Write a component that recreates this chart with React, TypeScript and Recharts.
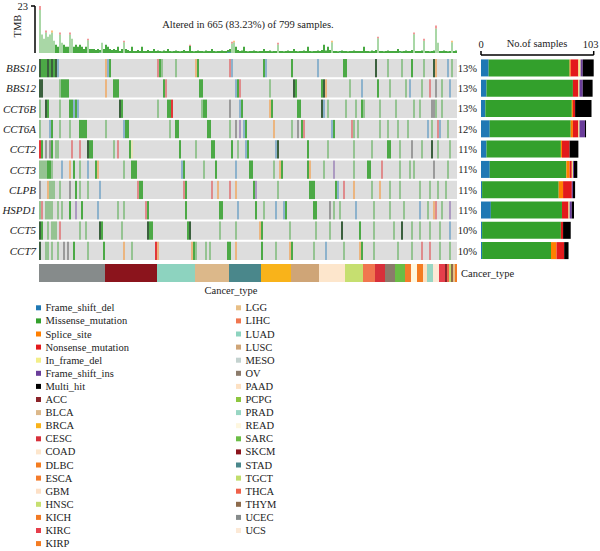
import React from "react";
import {
    BarChart,
    Bar,
    XAxis,
    YAxis,
    Cell,
    ScatterChart,
    Scatter,
    ReferenceArea,
} from "recharts";

const FONT = '"Liberation Serif", "Times New Roman", serif';
const TEXT = "#222";

const TOTAL_SAMPLES = 799;
const ALTERED_SAMPLES = 665;
const N_COLS = 209; // sample columns (each ~4 samples)

const genes = ["BBS10", "BBS12", "CCT6B", "CCT6A", "CCT2", "CCT3", "CLPB", "HSPD1", "CCT5", "CCT7"];

// variant classes: key, label, colour
const variantKeys = ["F", "M", "S", "N", "Y", "I", "K"];
const variantNames = [
    "Frame_shift_del",
    "Missense_mutation",
    "Splice_site",
    "Nonsense_mutation",
    "In_frame_del",
    "Frame_shift_ins",
    "Multi_hit",
];
const variantColors = ["#1f78b4", "#33a02c", "#ff7f00", "#e31a1c", "#f3ee88", "#6a3d9a", "#000000"];

// samples altered per gene, split by variant class
const frameShiftDel = [7, 5, 4, 8, 5, 8, 1, 9, 1, 1];
const missense = [74, 79, 79, 74, 68, 70, 70, 65, 72, 63];
const spliceSite = [1, 0, 1, 2, 1, 3, 4, 0, 0, 5];
const nonsense = [7, 5, 2, 5, 7, 2, 8, 6, 2, 7];
const inFrameDel = [2, 1, 0, 1, 0, 1, 0, 1, 0, 0];
const frameShiftIns = [2, 3, 0, 5, 0, 1, 1, 2, 0, 0];
const multiHit = [10, 9, 15, 1, 8, 3, 2, 2, 7, 4];

// per-column tumour mutation burden
const tmb = [
    23, 9, 7, 11, 8, 9, 11, 6, 4, 3,
    10, 5, 4, 3, 3, 10, 7, 3, 4, 3,
    4, 3, 2, 3, 7, 2, 2, 2, 1.5, 2,
    1.5, 5, 2, 4, 3, 2, 1.5, 2, 1.5, 3,
    1, 2, 6, 2, 1.5, 1, 3, 1, 1, 1.5,
    1, 3, 1, 1, 1.5, 1, 1, 2, 1, 1.2,
    1, 0.8, 1.2, 1, 2, 1, 0.8, 1, 1.2, 1,
    0.8, 1, 1.5, 1, 1, 4, 1, 0.8, 1, 1.2,
    1, 1, 0.8, 1.2, 1, 1, 2, 1, 0.8, 1,
    1, 1.2, 1, 1, 1.5, 2, 5.5, 6, 3, 1.5,
    1, 1.2, 3, 1, 0.8, 1, 1, 1.2, 1, 0.8,
    1, 1, 2, 1, 1, 1.2, 0.8, 1, 1, 5,
    1, 1, 0.8, 1, 1.2, 1, 1, 2, 1, 0.8,
    1, 1, 1.2, 1, 3, 1, 0.8, 1, 1, 1.2,
    1, 1.5, 4, 1.2, 3, 1.5, 6, 1, 1, 0.8,
    1, 1.2, 1, 1, 0.8, 1, 1, 1.2, 1, 1,
    1, 1, 3, 1, 1, 0.8, 1.2, 1, 1.5, 8,
    1, 1, 0.8, 1, 1.2, 1, 1, 1, 1, 2,
    1, 0.8, 1, 1.2, 1, 1, 1.5, 10, 1, 1,
    1, 1.2, 7, 1, 1, 0.8, 1, 1.2, 13.5, 5,
    1, 1, 1.2, 1, 0.8, 1, 6, 1, 1.2,
];

// non-missense parts of the burden: [column, amount, class]
const tmbParts: [number, number, string][] = [
    [0, 2, "N"], [3, 1, "N"], [6, 1, "S"], [10, 1, "N"], [15, 1, "N"],
    [24, 0.8, "N"], [30, 0.3, "F"], [42, 0.8, "N"], [75, 0.6, "N"],
    [94, 0.4, "F"], [95, 0.4, "F"], [96, 0.8, "N"], [97, 0.8, "S"],
    [119, 0.8, "N"], [146, 0.8, "S"], [150, 0.3, "F"], [169, 0.8, "N"],
    [180, 0.3, "F"], [187, 0.8, "N"], [192, 1, "N"], [198, 1.5, "N"], [206, 0.8, "S"],
];

// mutated columns per gene: "col" or "from-to" + class (lower case = fewer samples)
const geneCells = [
    "0K 1M 2-3M 4K 5M 6K 7M 8K 9f 33s 34f 35M 59n 60M 61m 68m 78s 79M 95n 96f 112M 113f 126M 139f 152-153M 168K 174m 181m 186M 192m 197K 198s 204f 206m",
    "0-1K 10m 11-14M 33s 37-39M 62M 63n 80-81M 98f 99M 100n 115m 127K 128M 141M 142K 143s 155m 161f 169M 175m 183m 185f 191m 195n 198k 201m 205f",
    "0m 3K 4M 10m 15-16M 17f 18M 19f 40K 41M 59m 64-65M 66N 81m 82-83M 95k 100f 101M 115s 116M 129-130M 141K 142f 144m 153m 158m 161M 162m 170m 178m 187m 190m 196-197k 198m 201m",
    "0m 5f 6M 10m 15m 20-23M 33m 42f 43-44M 65m 68-69M 84-85M 95m 98k 100i 102f 103M 117s 126m 129k 131M 132n 146f 147M 156n 157m 159m 170m 174m 179m 184m 194f 196m 199n 200f 204m",
    "0N 1M 3k 5k 6M 8m 9m 16n 20n 24K 25-26M 37m 39n 45M 46y 70M 78m 86-87M 96M 99m 103f 104M 118f 119K 134M 144m 157m 166m 174-175M 180m 186k 191m 196K 199m 205m",
    "0-3m 4-5M 6m 11f 15s 17M 20m 24f 28M 29s 42m 46-48M 71f 72M 82m 88M 98f 105-106M 117m 120s 121M 134M 135s 142m 147i 157m 164-165M 171n 180m 185m 187m 197k 204m",
    "0k 4s 5-7m 10m 15k 18M 20m 24m 30f 49n 50-51M 72n 73M 86n 89s 95n 98s 107M 108i 119m 135-137M 148M 149f 152n 157s 166m 170s 175m 180m 190m 195m 199m 203m",
    "0m 1n 3-6m 9m 11m 15M 18i 21M 29f 39m 42m 53n 54M 73M 90-91M 99f 108M 112m 118f 122f 123M 137-138M 145k 147m 150m 158f 167m 175m 182m 190f 194m 197s 198n 201m 205i",
    "0K 1M 4m 6-8m 10n 20m 23m 30K 31M 41m 54K 55-56M 74M 75K 90m 98m 110s 111M 125m 138m 145m 151K 160M 167m 177m 181K 186m 190m 195m 200m 205f",
    "0K 3-4m 6m 9m 12k 14k 17M 24m 32M 42s 46m 58N 59s 76s 77M 78m 83m 85m 94-95M 98s 111M 118m 125s 126M 137m 143f 152m 160s 161M 167m 179m 186m 191n 195n 200m 205m",
];

const cancerNames = [
    "ACC", "BLCA", "BRCA", "CESC", "COAD", "DLBC", "ESCA", "GBM", "HNSC", "KICH", "KIRC", "KIRP",
    "LGG", "LIHC", "LUAD", "LUSC", "MESO", "OV", "PAAD", "PCPG", "PRAD", "READ", "SARC", "SKCM",
    "STAD", "TGCT", "THCA", "THYM", "UCEC", "UCS",
];
const cancerColors = [
    "#8b2329", "#dcb88a", "#f9b31a", "#d7303a", "#fde6cc", "#f47c20", "#f47b2b", "#fde0c6", "#c6df70", "#f27a24", "#e63e4b", "#f47c22",
    "#e8bf86", "#f0764f", "#8dd3bf", "#cfa577", "#c3d2cf", "#8c7b6b", "#fde1c3", "#8dc63f", "#98d6c3", "#fef7df", "#6bbd45", "#8b141c",
    "#4a878b", "#c1dd6b", "#ef614a", "#8d6b4c", "#868b8b", "#fce9d6",
];

// annotation strip: cancer type order and number of columns
const stripOrder = [
    "UCEC", "SKCM", "LUAD", "BLCA", "STAD", "BRCA", "LUSC", "COAD", "HNSC", "LIHC", "CESC", "OV", "SARC",
    "ESCA", "READ", "KIRP", "PAAD", "PRAD", "UCS", "KIRC", "ACC", "THCA", "TGCT", "THYM", "LGG", "KICH",
];
const stripCols = [33, 26, 19, 17, 16, 15, 14, 13, 9, 6, 5, 5, 5, 3, 3, 3, 2, 3, 3, 3, 1, 1, 1, 1, 1, 1];

const colorOf = (k: string) => variantColors[variantKeys.indexOf(k.toUpperCase())];

const tmbRows = tmb.map((v, i) => {
    const row: Record<string, number> = { col: i, F: 0, M: v, S: 0, N: 0 };
    tmbParts
        .filter((p) => p[0] === i)
        .forEach(([, amt, k]) => {
            row[k] += amt;
            row.M -= amt;
        });
    return row;
});

const cellPoints = geneCells.flatMap((line, gi) =>
    line.split(" ").flatMap((tok) => {
        const m = tok.match(/^(\d+)(?:-(\d+))?([A-Za-z])$/);
        if (!m) return [];
        const a = Number(m[1]);
        const b = m[2] ? Number(m[2]) : a;
        const out = [];
        for (let c = a; c <= b; c++) out.push({ x: c + 0.5, y: gi + 0.5, code: m[3] });
        return out;
    })
);

const countRows = genes.map((g, i) => ({
    gene: g,
    F: frameShiftDel[i],
    M: missense[i],
    S: spliceSite[i],
    N: nonsense[i],
    Y: inFrameDel[i],
    I: frameShiftIns[i],
    K: multiHit[i],
}));
const pctLabel = (g: string) => {
    const r = countRows.find((d) => d.gene === g);
    if (!r) return "";
    const total = r.F + r.M + r.S + r.N + r.Y + r.I + r.K;
    return `${Math.round((total / TOTAL_SAMPLES) * 100)}%`;
};

const stripRow: Record<string, number | string> = { name: "Cancer_type" };
stripOrder.forEach((c, i) => (stripRow[c] = stripCols[i]));

const legendItems = [
    ...variantNames.map((n, i) => ({ name: n, color: variantColors[i] })),
    ...cancerNames.map((n, i) => ({ name: n, color: cancerColors[i] })),
];

// grid geometry
const GRID_LEFT = 39;
const GRID_W = 418;
const GRID_TOP = 58;
const GRID_H = 203;
const COL_W = GRID_W / N_COLS;
const ROW_H = GRID_H / genes.length;

// multi-hit columns mix with missense calls, so they read as very dark green in the grid
const MULTI_CELL = "#1f4a22";

const CellShape = (props: any) => {
    const { cx, cy, payload } = props;
    const code: string = payload.code;
    const upper = code === code.toUpperCase();
    const isMulti = code.toUpperCase() === "K";
    const op = upper ? 0.85 : isMulti ? 0.3 : 0.42;
    return (
        <rect
            x={cx - COL_W / 2}
            y={cy - ROW_H * 0.45}
            width={COL_W}
            height={ROW_H * 0.9}
            fill={isMulti && upper ? MULTI_CELL : colorOf(code)}
            fillOpacity={op}
        />
    );
};

const axisTick = { fontSize: 10.5, fill: TEXT, fontFamily: FONT };

// top axis tick, last label pulled in so it stays on the page
const CountTick = (props: any) => {
    const { x, y, payload } = props;
    const shift = payload.value === 103 ? -3 : 0;
    return (
        <text x={x + shift} y={y} textAnchor="middle" fontSize={10.5} fill={TEXT} fontFamily={FONT}>
            {payload.value}
        </text>
    );
};

const App: React.FC = () => {
    const altPct = ((ALTERED_SAMPLES / TOTAL_SAMPLES) * 100).toFixed(2);
    return (
        <div
            style={{
                position: "absolute",
                left: 0,
                top: 0,
                width: 600,
                height: 551,
                background: "#fff",
                fontFamily: FONT,
            }}
        >
            {/* TMB bars */}
            <div style={{ position: "absolute", left: 0, top: 0 }}>
                <BarChart
                    width={600}
                    height={56}
                    data={tmbRows}
                    margin={{ top: 6, right: 143, bottom: 3, left: 0 }}
                    barCategoryGap={0}
                >
                    <XAxis dataKey="col" hide padding={{ left: 4, right: 0 }} />
                    <YAxis
                        domain={[0, 23]}
                        ticks={[0, 23]}
                        width={35}
                        tickSize={4}
                        tickMargin={3}
                        tick={axisTick}
                        axisLine={{ stroke: "#000", strokeWidth: 1.5 }}
                        tickLine={{ stroke: "#000", strokeWidth: 1.5 }}
                    />
                    <Bar dataKey="F" stackId="t" fill={variantColors[0]} isAnimationActive={false} />
                    <Bar dataKey="M" stackId="t" fill={variantColors[1]} isAnimationActive={false}>
                        {tmbRows.map((r, i) => (
                            <Cell key={i} fillOpacity={tmb[i] > 4.5 ? 0.42 : 0.9} />
                        ))}
                    </Bar>
                    <Bar dataKey="S" stackId="t" fill={variantColors[2]} fillOpacity={0.5} isAnimationActive={false} />
                    <Bar dataKey="N" stackId="t" fill={variantColors[3]} fillOpacity={0.45} isAnimationActive={false} />
                </BarChart>
            </div>

            {/* oncoprint grid */}
            <div style={{ position: "absolute", left: 0, top: 0 }}>
                <ScatterChart
                    width={600}
                    height={GRID_TOP + GRID_H + 1}
                    margin={{ top: GRID_TOP, right: 600 - GRID_LEFT - GRID_W, bottom: 1, left: 0 }}
                >
                    <XAxis type="number" dataKey="x" domain={[0, N_COLS]} hide />
                    <YAxis
                        type="number"
                        dataKey="y"
                        domain={[0, genes.length]}
                        reversed
                        ticks={genes.map((_, i) => i + 0.5)}
                        tickFormatter={(v: number) => genes[Math.floor(v)]}
                        width={GRID_LEFT}
                        tickLine={false}
                        axisLine={false}
                        tickSize={0}
                        tickMargin={3}
                        interval={0}
                        tick={{ ...axisTick, fontSize: 11, fontStyle: "italic" }}
                    />
                    {genes.map((g, i) => (
                        <ReferenceArea
                            key={g}
                            x1={0}
                            x2={N_COLS}
                            y1={i + 0.05}
                            y2={i + 0.95}
                            fill="#dddddd"
                            fillOpacity={1}
                            stroke="none"
                        />
                    ))}
                    <Scatter data={cellPoints} shape={CellShape} isAnimationActive={false} />
                </ScatterChart>
            </div>

            {/* cancer type strip */}
            <div style={{ position: "absolute", left: 0, top: 264 }}>
                <BarChart
                    layout="vertical"
                    width={600}
                    height={18}
                    data={[stripRow]}
                    margin={{ top: 0, right: 600 - GRID_LEFT - GRID_W, bottom: 0, left: GRID_LEFT }}
                    barCategoryGap={0}
                >
                    <XAxis type="number" domain={[0, N_COLS]} hide />
                    <YAxis type="category" dataKey="name" hide />
                    {stripOrder.map((c) => (
                        <Bar
                            key={c}
                            dataKey={c}
                            stackId="ct"
                            fill={cancerColors[cancerNames.indexOf(c)]}
                            isAnimationActive={false}
                        />
                    ))}
                </BarChart>
            </div>

            {/* samples per gene */}
            <div style={{ position: "absolute", left: 0, top: 0 }}>
                <BarChart
                    layout="vertical"
                    width={600}
                    height={262}
                    data={countRows}
                    margin={{ top: 0, right: 6.3, bottom: 1, left: 457 }}
                    barCategoryGap="7%"
                >
                    <XAxis
                        type="number"
                        orientation="top"
                        domain={[0, 103]}
                        ticks={[0, 103]}
                        interval={0}
                        height={55}
                        tickSize={4}
                        tickMargin={3}
                        tick={<CountTick />}
                        axisLine={{ stroke: "#000", strokeWidth: 1.5 }}
                        tickLine={{ stroke: "#000", strokeWidth: 1.5 }}
                    />
                    <YAxis
                        type="category"
                        dataKey="gene"
                        width={24}
                        tickLine={false}
                        axisLine={false}
                        tickSize={0}
                        tickMargin={4}
                        interval={0}
                        padding={{ top: 3, bottom: 0 }}
                        tickFormatter={pctLabel}
                        tick={axisTick}
                    />
                    {variantKeys.map((k, i) => (
                        <Bar key={k} dataKey={k} stackId="n" fill={variantColors[i]} isAnimationActive={false} />
                    ))}
                </BarChart>
            </div>

            {/* titles, axis names and legend */}
            <svg
                width={600}
                height={551}
                style={{ position: "absolute", left: 0, top: 0, pointerEvents: "none" }}
                fontFamily={FONT}
                fontSize={10.5}
                fill={TEXT}
            >
                <text x={17} y={26} textAnchor="middle" dominantBaseline="central" transform="rotate(-90 17 26)">
                    TMB
                </text>
                <text x={248} y={24} textAnchor="middle" dominantBaseline="central">
                    {`Altered in ${ALTERED_SAMPLES} (${altPct}%) of ${TOTAL_SAMPLES} samples.`}
                </text>
                <text x={537} y={43} textAnchor="middle" dominantBaseline="central">
                    No.of samples
                </text>
                <text x={461} y={273} dominantBaseline="central">
                    Cancer_type
                </text>
                <text x={231} y={290} textAnchor="middle" dominantBaseline="central">
                    Cancer_type
                </text>
                {legendItems.map((it, i) => {
                    const colIdx = i < 19 ? 0 : 1;
                    const rowIdx = colIdx === 0 ? i : i - 19;
                    const y = 307.8 + rowIdx * 13.1;
                    const x = colIdx === 0 ? 36 : 236;
                    return (
                        <g key={it.name}>
                            <rect x={x} y={y - 2.5} width={5} height={5} fill={it.color} />
                            <text x={x + 9.5} y={y} dominantBaseline="central">
                                {it.name}
                            </text>
                        </g>
                    );
                })}
            </svg>
        </div>
    );
};

export default App;
